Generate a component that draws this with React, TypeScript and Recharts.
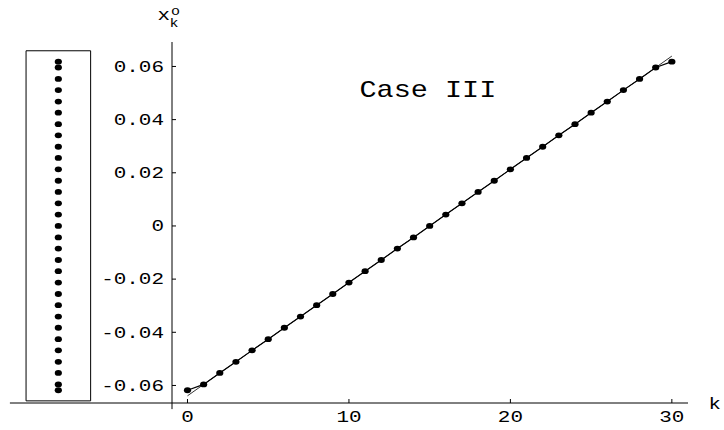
import {
  ComposedChart,
  Line,
  XAxis,
  YAxis,
  ReferenceArea,
  ReferenceDot,
  ReferenceLine,
} from "recharts";

// step index k
const kValues = [
  0, 1, 2, 3, 4, 5, 6, 7, 8, 9, 10, 11, 12, 13, 14, 15, 16, 17, 18, 19, 20, 21,
  22, 23, 24, 25, 26, 27, 28, 29, 30,
];

// x_k^o, Case III (dots + thick line)
const xkCase3 = [
  -0.0618, -0.0596, -0.0553, -0.0511, -0.0468, -0.0426, -0.0383, -0.0341,
  -0.0298, -0.0256, -0.0213, -0.017, -0.0128, -0.0085, -0.0043, 0, 0.0043,
  0.0085, 0.0128, 0.017, 0.0213, 0.0256, 0.0298, 0.0341, 0.0383, 0.0426,
  0.0468, 0.0511, 0.0553, 0.0596, 0.0618,
];

// thin straight reference line (differs only at the ends)
const xkStraight = [
  -0.0639, -0.0596, -0.0553, -0.0511, -0.0468, -0.0426, -0.0383, -0.0341,
  -0.0298, -0.0256, -0.0213, -0.017, -0.0128, -0.0085, -0.0043, 0, 0.0043,
  0.0085, 0.0128, 0.017, 0.0213, 0.0256, 0.0298, 0.0341, 0.0383, 0.0426,
  0.0468, 0.0511, 0.0553, 0.0596, 0.0639,
];

const kTicks = [0, 10, 20, 30];
const xkTicks = [-0.06, -0.04, -0.02, 0, 0.02, 0.04, 0.06];

const data = kValues.map((k, i) => ({ k, x: xkCase3[i], line: xkStraight[i] }));

const FONT = "'Liberation Mono', 'DejaVu Sans Mono', monospace";
const STRETCH = 1.27;

// plot range (axes cross at k=-0.96, x=-0.0666)
const K_MIN = -0.96;
const K_MAX = 31;
const X_MIN = -0.0666;
const X_MAX = 0.0692;

function KTick({ x, y, payload }: any) {
  return (
    <g>
      <line x1={x} y1={y} x2={x} y2={y - 4} stroke="#000" />
      <text
        transform={`translate(${x},${y + 18.5}) scale(${STRETCH},1)`}
        textAnchor="middle"
        fontFamily={FONT}
        fontSize={16.5}
        fill="#000"
      >
        {payload.value}
      </text>
    </g>
  );
}

function XkTick({ x, y, payload }: any) {
  const v = payload.value as number;
  const label = v === 0 ? "0" : v.toFixed(2);
  return (
    <g>
      <line x1={x} y1={y} x2={x + 4} y2={y} stroke="#000" />
      <text
        transform={`translate(${x - 8},${y + 5.3}) scale(${STRETCH},1)`}
        textAnchor="end"
        fontFamily={FONT}
        fontSize={16.5}
        fill="#000"
      >
        {label}
      </text>
    </g>
  );
}

const dotShape = (p: any) => (
  <ellipse key={`d${p.index}`} cx={p.cx} cy={p.cy} rx={3.6} ry={2.9} fill="#000" />
);

export default function App() {
  return (
    <div style={{ position: "absolute", left: 0, top: 0, width: 724, height: 430 }}>
      <ComposedChart
        width={724}
        height={430}
        data={data}
        margin={{ top: 42, right: 36, bottom: 7, left: 112 }}
      >
        <XAxis
          dataKey="k"
          type="number"
          domain={[K_MIN, K_MAX]}
          ticks={kTicks}
          height={20}
          tickSize={0}
          tickMargin={0}
          tickLine={false}
          axisLine={{ stroke: "#000" }}
          tick={<KTick />}
        />
        <YAxis
          type="number"
          domain={[X_MIN, X_MAX]}
          ticks={xkTicks}
          width={60}
          tickSize={0}
          tickMargin={0}
          tickLine={false}
          axisLine={{ stroke: "#000" }}
          tick={<XkTick />}
        />
        {/* x axis continues left under the inset box, y axis pokes below */}
        <ReferenceLine
          segment={[
            { x: -11, y: X_MIN },
            { x: K_MIN, y: X_MIN },
          ]}
          stroke="#000"
          ifOverflow="visible"
        />
        <ReferenceLine
          segment={[
            { x: K_MIN, y: X_MIN },
            { x: K_MIN, y: -0.0689 },
          ]}
          stroke="#000"
          ifOverflow="visible"
        />
        {/* inset: the x_k values as a column of dots */}
        <ReferenceArea
          x1={-10}
          x2={-6}
          y1={-0.0658}
          y2={0.0659}
          fill="none"
          fillOpacity={0}
          stroke="#000"
          strokeOpacity={1}
          ifOverflow="visible"
        />
        {xkCase3.map((v, i) => (
          <ReferenceDot
            key={`b${i}`}
            x={-8}
            y={v}
            ifOverflow="visible"
            shape={(p: any) => (
              <ellipse cx={p.cx} cy={p.cy} rx={3.6} ry={2.9} fill="#000" />
            )}
          />
        ))}
        <Line
          type="linear"
          dataKey="line"
          stroke="#000"
          strokeWidth={0.8}
          dot={false}
          activeDot={false}
          isAnimationActive={false}
        />
        <Line
          type="linear"
          dataKey="x"
          stroke="#000"
          strokeWidth={1.2}
          dot={dotShape}
          activeDot={false}
          isAnimationActive={false}
        />
      </ComposedChart>
      <svg
        width={724}
        height={430}
        style={{ position: "absolute", left: 0, top: 0, pointerEvents: "none" }}
      >
        <text
          transform={`translate(359.5,97.3) scale(1.24,1)`}
          fontFamily={FONT}
          fontSize={23}
          fill="#000"
        >
          Case III
        </text>
        <text transform={`translate(157.5,20) scale(1.3,1)`} fontFamily={FONT} fontSize={16} fill="#000">
          x
        </text>
        <text transform={`translate(169.5,26.7) scale(1.25,1)`} fontFamily={FONT} fontSize={12} fill="#000">
          k
        </text>
        <text transform={`translate(171,15) scale(1.25,1)`} fontFamily={FONT} fontSize={12} fill="#000">
          o
        </text>
        <text transform={`translate(708.5,409) scale(1.25,1)`} fontFamily={FONT} fontSize={16.5} fill="#000">
          k
        </text>
      </svg>
    </div>
  );
}
